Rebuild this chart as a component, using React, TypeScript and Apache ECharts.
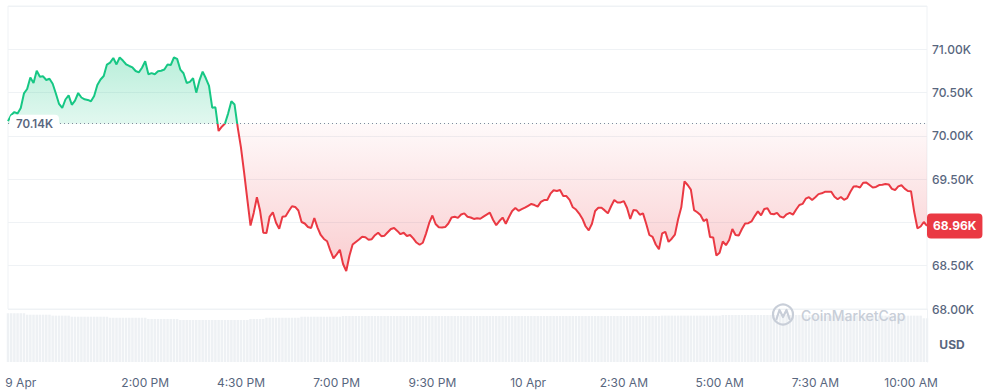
import { useEffect, useRef } from "react";
import * as echarts from "echarts";

// time axis: minutes since 9 Apr 00:00, one point every 5 minutes from 10:25 AM
const START_MINUTE = 625;
const STEP_MINUTES = 5;
const BASELINE = 70140;

const prices = [
  70170, 70240, 70275, 70258, 70322, 70490, 70541, 70674, 70610, 70751,
  70683, 70688, 70645, 70659, 70602, 70489, 70368, 70322, 70420, 70467,
  70359, 70408, 70495, 70443, 70422, 70415, 70400, 70460, 70587, 70651,
  70691, 70824, 70846, 70899, 70825, 70905, 70870, 70827, 70807, 70790,
  70749, 70733, 70787, 70861, 70711, 70725, 70712, 70747, 70752, 70766,
  70824, 70818, 70905, 70889, 70766, 70723, 70610, 70623, 70666, 70499,
  70640, 70742, 70665, 70576, 70325, 70330, 70056, 70106, 70143, 70260,
  70399, 70362, 70096, 69866, 69574, 69267, 68964, 69110, 69291, 69134,
  68881, 68878, 69068, 69117, 68997, 68926, 69066, 69072, 69132, 69187,
  69179, 69138, 69005, 68988, 68947, 68936, 69051, 68940, 68855, 68809,
  68783, 68676, 68586, 68631, 68685, 68520, 68439, 68616, 68744, 68774,
  68802, 68834, 68828, 68799, 68806, 68852, 68881, 68841, 68847, 68886,
  68924, 68936, 68902, 68864, 68881, 68843, 68855, 68815, 68768, 68742,
  68765, 68871, 68994, 69080, 68982, 68944, 68942, 68946, 68988, 69057,
  69065, 69053, 69091, 69104, 69066, 69057, 69040, 69048, 69042, 69067,
  69091, 69113, 69031, 68968, 69016, 69056, 68985, 69063, 69132, 69167,
  69134, 69153, 69170, 69192, 69213, 69201, 69183, 69238, 69259, 69259,
  69332, 69372, 69363, 69374, 69305, 69305, 69261, 69175, 69149, 69103,
  69043, 68956, 68908, 68985, 69132, 69169, 69169, 69139, 69105, 69187,
  69259, 69231, 69231, 69247, 69167, 69040, 69143, 69138, 69089, 69105,
  68984, 68855, 68832, 68745, 68691, 68874, 68892, 68775, 68812, 68859,
  69037, 69175, 69473, 69432, 69379, 69143, 69118, 69086, 69016, 69037,
  68832, 68827, 68617, 68649, 68780, 68737, 68797, 68924, 68855, 68848,
  68924, 68988, 68991, 69011, 69073, 69127, 69081, 69155, 69163, 69101,
  69094, 69110, 69068, 69056, 69094, 69111, 69090, 69149, 69201, 69214,
  69274, 69292, 69260, 69291, 69327, 69336, 69354, 69355, 69354, 69297,
  69267, 69294, 69261, 69282, 69355, 69415, 69417, 69404, 69459, 69460,
  69432, 69404, 69410, 69432, 69435, 69444, 69439, 69387, 69374, 69417,
  69430, 69391, 69363, 69359, 69120, 68932, 68953, 69005, 68960,
];

// volume (billions USD)
const volumes = [
  36.8, 36.8, 36.8, 36.8, 36.8, 36.8, 35.7, 35.7, 35.7, 35.7, 35.7, 35.7,
  35.7, 35.7, 35.0, 35.0, 35.0, 35.0, 35.0, 35.0, 34.2, 34.2, 34.2, 34.2,
  34.2, 34.2, 34.2, 34.2, 34.2, 34.2, 34.2, 34.2, 33.4, 33.4, 33.4, 33.4,
  33.4, 33.4, 33.4, 33.4, 33.4, 33.4, 33.4, 33.4, 32.5, 32.5, 32.5, 32.5,
  32.5, 32.5, 32.5, 32.5, 32.5, 32.5, 31.7, 31.7, 31.7, 31.7, 31.7, 31.7,
  31.7, 31.7, 31.7, 31.7, 31.7, 31.7, 31.7, 31.7, 31.7, 31.7, 31.7, 31.7,
  31.7, 31.7, 31.7, 31.7, 32.5, 32.5, 32.5, 32.5, 32.5, 33.4, 33.4, 33.4,
  33.4, 33.4, 33.4, 33.4, 33.4, 33.4, 33.4, 33.4, 34.2, 34.2, 34.2, 34.2,
  34.2, 34.2, 34.2, 34.2, 34.2, 34.2, 34.2, 34.2, 34.2, 34.7, 34.7, 34.7,
  34.7, 34.7, 34.7, 34.7, 34.7, 34.7, 34.7, 34.7, 34.7, 34.7, 34.7, 34.7,
  34.7, 34.7, 34.7, 34.7, 34.7, 34.7, 34.7, 34.7, 34.7, 34.7, 34.7, 34.7,
  34.7, 34.7, 34.7, 34.7, 34.7, 34.7, 34.7, 34.7, 34.7, 34.7, 34.7, 34.7,
  34.7, 34.7, 34.7, 34.7, 34.7, 34.7, 34.7, 34.7, 34.7, 34.7, 34.7, 34.7,
  34.7, 34.7, 34.7, 34.7, 34.7, 34.7, 34.7, 34.7, 34.7, 34.7, 34.7, 34.7,
  34.7, 34.7, 34.7, 34.7, 34.7, 34.7, 34.7, 34.7, 34.7, 34.7, 34.7, 34.7,
  34.7, 34.7, 34.7, 34.7, 34.7, 34.7, 34.7, 34.7, 34.7, 34.7, 34.7, 34.7,
  34.7, 34.7, 34.7, 34.7, 34.7, 34.7, 34.7, 34.7, 34.7, 34.7, 34.7, 34.7,
  34.7, 35.0, 35.0, 35.0, 35.0, 35.0, 35.0, 35.0, 35.0, 35.0, 35.0, 35.0,
  35.0, 35.0, 35.0, 35.0, 35.0, 35.0, 35.0, 35.0, 35.5, 35.5, 35.5, 35.5,
  35.5, 35.5, 35.5, 35.5, 35.5, 35.5, 35.5, 35.5, 35.5, 35.5, 35.5, 35.5,
  35.5, 35.5, 35.5, 35.5, 35.5, 35.5, 35.5, 35.5, 35.5, 35.5, 35.5, 35.5,
  35.5, 35.0, 35.0, 35.0, 35.0, 35.0, 35.0, 35.0, 35.0, 35.0, 35.0, 35.0,
  35.0, 35.0, 35.0, 35.0, 35.0, 35.0, 35.0, 35.0, 35.0, 35.0, 35.0, 35.0,
  35.0, 35.0, 35.0, 35.0, 35.0, 35.0, 35.0, 35.0, 35.0, 35.0, 35.0, 33.0,
  33.0,
];

const PRICE_MIN = 68000;
const PRICE_MAX = 71500;
const PRICE_STEP = 500;
const VOLUME_MAX = 40;

const xTickMinutes = [645, 840, 990, 1140, 1290, 1440, 1590, 1740, 1890, 2040];
const xTickLabels = ["9 Apr", "2:00 PM", "4:30 PM", "7:00 PM", "9:30 PM", "10 Apr", "2:30 AM", "5:00 AM", "7:30 AM", "10:00 AM"];

const GREEN = "#16c784";
const RED = "#ea3943";
const GRID_LINE = "#eff2f5";
const LABEL = "#58667e";
const WATERMARK = "#c8ced8";
const FONT = "Inter";

const fmtK = (v: number) => (v / 1000).toFixed(2) + "K";

export default function App() {
  const ref = useRef<HTMLDivElement>(null);

  useEffect(() => {
    if (!ref.current) return;
    const chart = echarts.init(ref.current, null, { renderer: "svg" });
    const times = prices.map((_, i) => START_MINUTE + i * STEP_MINUTES);
    const endMinute = times[times.length - 1];
    const last = prices[prices.length - 1];
    const hi = Math.max(...prices);
    const lo = Math.min(...prices);
    const split = (hi - BASELINE) / (hi - lo);

    chart.setOption({
      animation: false,
      backgroundColor: "#ffffff",
      textStyle: { fontFamily: FONT },
      grid: [
        { left: 8, top: 6, width: 919, height: 303, show: true, borderColor: GRID_LINE, borderWidth: 1 },
        { left: 8, top: 309, width: 919, height: 53 },
      ],
      xAxis: [
        { type: "value", gridIndex: 0, min: START_MINUTE, max: endMinute, show: false },
        {
          type: "value",
          gridIndex: 1,
          min: START_MINUTE,
          max: endMinute,
          axisLine: { show: false },
          axisTick: { show: false },
          splitLine: { show: false },
          axisLabel: {
            customValues: xTickMinutes,
            formatter: (v: number) => {
              const k = xTickMinutes.indexOf(v);
              return k >= 0 ? xTickLabels[k] : "";
            },
            color: LABEL,
            fontSize: 12,
            fontFamily: FONT,
            margin: 14,
          },
        },
      ],
      yAxis: [
        {
          type: "value",
          gridIndex: 0,
          position: "right",
          min: PRICE_MIN,
          max: PRICE_MAX,
          interval: PRICE_STEP,
          axisLine: { show: false },
          axisTick: { show: false },
          splitLine: { show: true, lineStyle: { color: GRID_LINE, width: 1 } },
          axisLabel: {
            // the axis label hidden under the current-price tag is left blank
            formatter: (v: number) => (v >= PRICE_MAX || Math.abs(v - last) < 150 ? "" : fmtK(v)),
            color: LABEL,
            fontSize: 12,
            fontWeight: 500,
            fontFamily: FONT,
            margin: 5,
          },
        },
        {
          type: "value",
          gridIndex: 1,
          position: "right",
          min: 0,
          max: VOLUME_MAX,
          axisLine: { show: true, lineStyle: { color: GRID_LINE } },
          axisTick: { show: false },
          axisLabel: { show: false },
          splitLine: { show: false },
        },
      ],
      visualMap: {
        type: "piecewise",
        show: false,
        seriesIndex: 0,
        dimension: 1,
        pieces: [
          { lte: BASELINE, color: RED },
          { gt: BASELINE, lte: 100000, color: GREEN },
        ],
        outOfRange: { color: GREEN },
      },
      series: [
        {
          type: "line",
          xAxisIndex: 0,
          yAxisIndex: 0,
          data: prices.map((p, i) => [times[i], p]),
          showSymbol: false,
          symbol: "none",
          z: 3,
          lineStyle: { width: 2 },
          areaStyle: {
            origin: BASELINE,
            color: new echarts.graphic.LinearGradient(0, 0, 0, 1, [
              { offset: 0, color: "rgba(22,199,132,0.42)" },
              { offset: split, color: "rgba(22,199,132,0.18)" },
              { offset: split, color: "rgba(234,57,67,0.04)" },
              { offset: 1, color: "rgba(234,57,67,0.36)" },
            ]),
          },
          markLine: {
            silent: true,
            symbol: "none",
            animation: false,
            data: [
              {
                yAxis: BASELINE,
                lineStyle: { type: [1, 3], color: "#808a9d", width: 1 },
                label: {
                  show: true,
                  position: "insideStart",
                  formatter: fmtK(BASELINE),
                  distance: [2, 0],
                  backgroundColor: "#ffffff",
                  borderRadius: 4,
                  padding: [3, 6],
                  color: LABEL,
                  fontSize: 11.5,
                  lineHeight: 12,
                  fontWeight: 600,
                  fontFamily: FONT,
                },
              },
              {
                yAxis: last,
                lineStyle: { color: "rgba(0,0,0,0)", width: 0 },
                label: {
                  show: true,
                  position: "end",
                  formatter: fmtK(last),
                  distance: 0,
                  opacity: 1,
                  backgroundColor: RED,
                  borderRadius: 4,
                  padding: [5, 6],
                  color: "#ffffff",
                  fontSize: 12,
                  lineHeight: 15,
                  fontWeight: 700,
                  fontFamily: FONT,
                },
              },
            ],
          },
        },
        {
          type: "bar",
          xAxisIndex: 1,
          yAxisIndex: 1,
          data: volumes.map((v, i) => [times[i], v]),
          barWidth: 2.5,
          itemStyle: { color: "#eef1f4" },
          silent: true,
          z: 1,
        },
      ],
      graphic: [
        {
          type: "text",
          x: 952,
          y: 344,
          z: 100,
          style: {
            text: "USD",
            fill: LABEL,
            fontSize: 12,
            fontWeight: 700,
            fontFamily: FONT,
            align: "center",
            verticalAlign: "middle",
          },
        },
        {
          type: "circle",
          z: 100,
          shape: { cx: 783, cy: 314.5, r: 10 },
          style: { fill: "none", stroke: WATERMARK, lineWidth: 2.2 },
        },
        {
          type: "polyline",
          z: 100,
          shape: { points: [[776.5, 319], [779.5, 310], [783, 317], [786.5, 310], [789.5, 319]] },
          style: { fill: "none", stroke: WATERMARK, lineWidth: 2.2, lineJoin: "round", lineCap: "round" },
        },
        {
          type: "text",
          x: 801,
          y: 315,
          z: 100,
          style: {
            text: "CoinMarketCap",
            fill: WATERMARK,
            fontSize: 14,
            fontWeight: 500,
            fontFamily: FONT,
            verticalAlign: "middle",
          },
        },
      ],
    });

    return () => chart.dispose();
  }, []);

  return (
    <div
      ref={ref}
      style={{ position: "fixed", left: 0, top: 0, width: 987, height: 392, background: "#ffffff" }}
    />
  );
}
